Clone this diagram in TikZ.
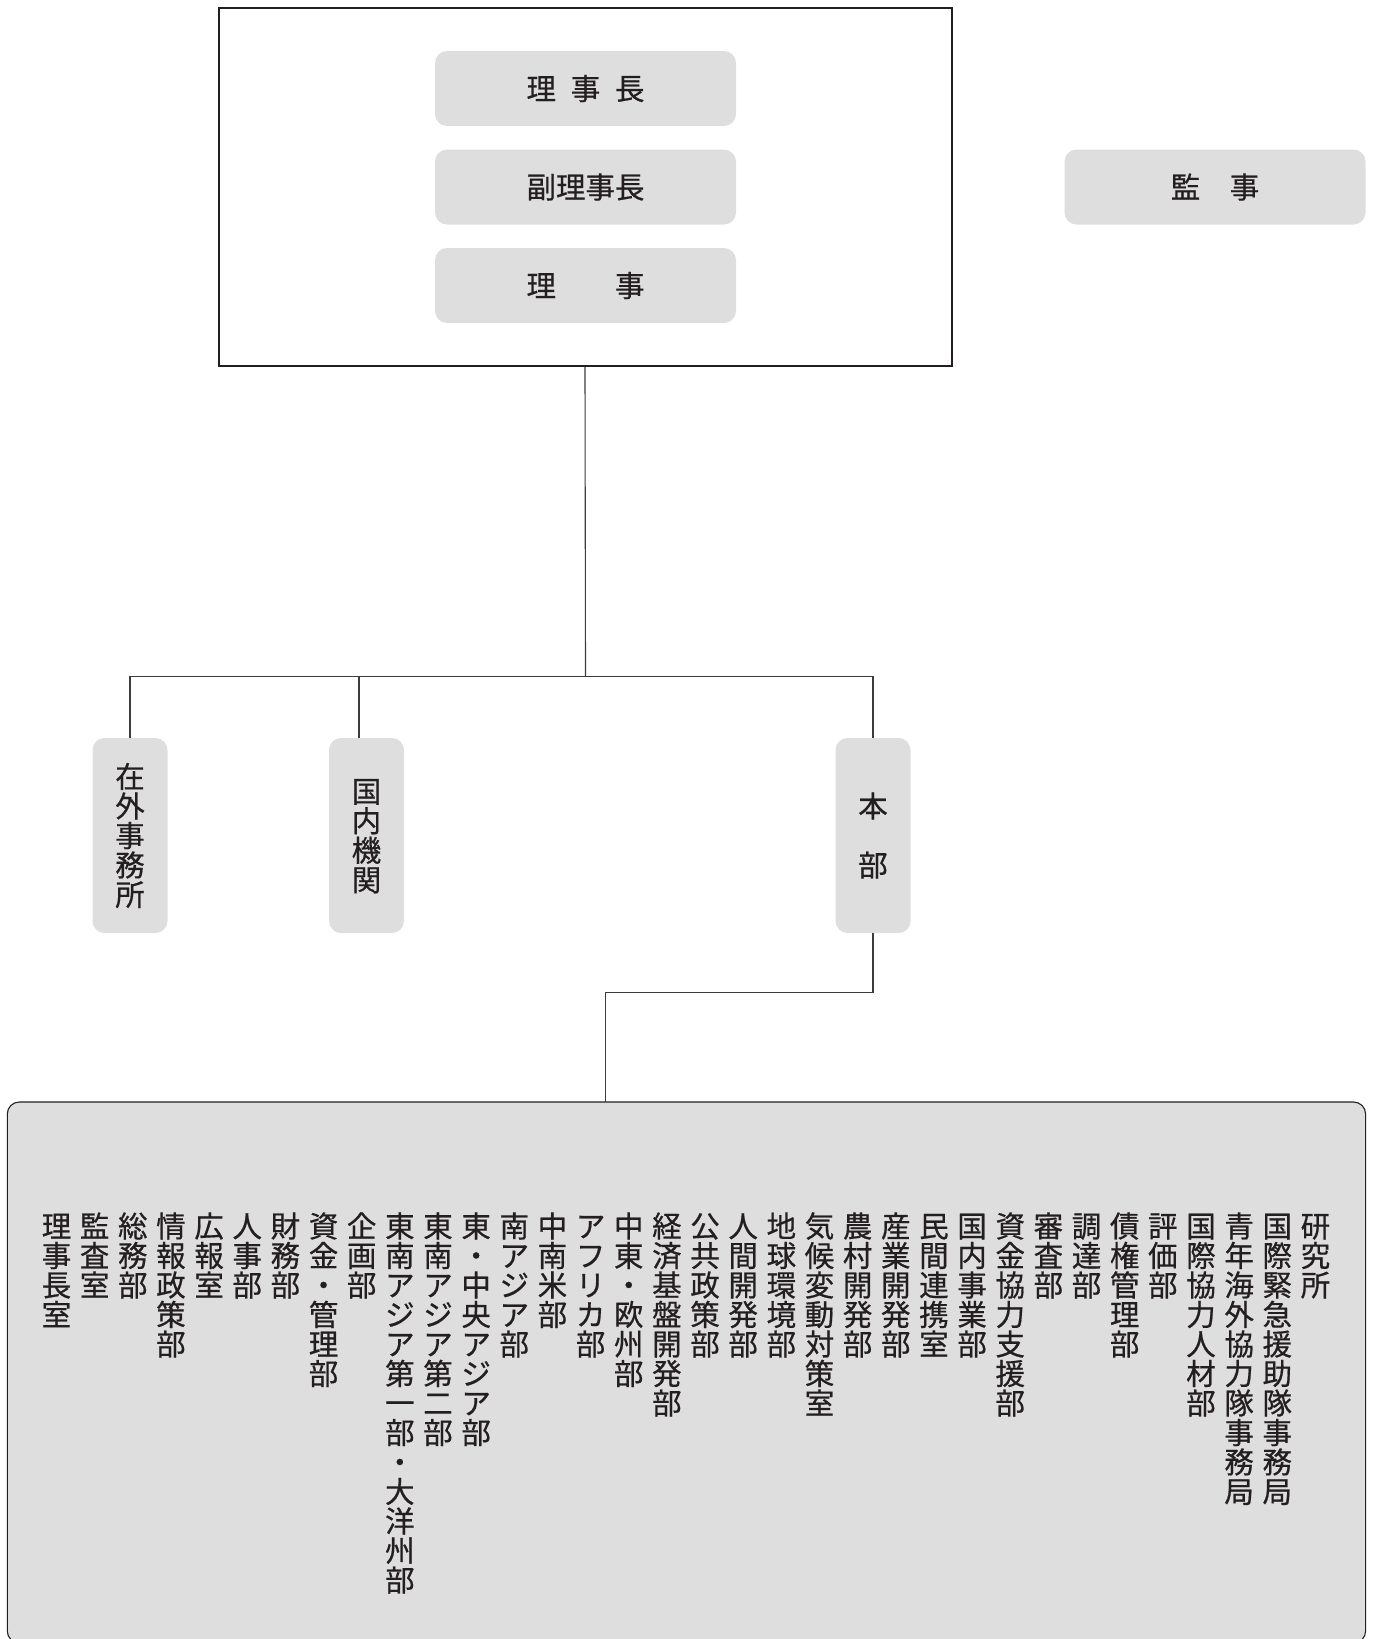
\documentclass[tikz,border=0pt]{standalone}
\usepackage{fontspec}
\newfontfamily\jp[FakeBold=0.6]{Noto Sans CJK JP}
\definecolor{boxgray}{RGB}{223,222,223}
\definecolor{ink}{RGB}{35,31,32}
\definecolor{linec}{RGB}{60,60,60}
\makeatletter
\newcommand\vtext[1]{\vbox{\offinterlineskip\@tfor\vt@c:=#1\do{\hbox to 1em{\vrule height .88em depth .12em width 0pt\hss\vt@c\hss}}}}
\makeatother
\tikzset{
  lbl/.style={fill=boxgray, rounded corners=12pt, inner sep=0pt, text=ink,
    font=\jp\fontsize{29.5}{29.5}\selectfont},
  hbox/.style={lbl, minimum width=301pt, minimum height=75pt},
  vbx/.style={lbl, minimum width=75pt, minimum height=195pt},
  conn/.style={draw=linec, line width=1.1pt},
  colt/.style={anchor=north, inner sep=0pt, text=ink,
    font=\jp\fontsize{29.5}{29.5}\selectfont}
}
\begin{document}
\begin{tikzpicture}[x=1pt,y=-1pt]
\path[use as bounding box] (0,0) rectangle (1375,1639);
% board
\node[draw=ink, line width=2pt, minimum width=733pt, minimum height=357.6pt, inner sep=0pt] (board) at (585,187.2) {};
\node[hbox] (chair) at (585.5,88.5) {理\hspace{.5em}事\hspace{.5em}長};
\node[hbox] (vice) at (585.5,187) {副理事長};
\node[hbox] (dir) at (585.5,285.5) {理　　事};
\node[hbox] (audit) at (1215,187) {監　事};
% second level
\node[vbx] (zaigai) at (130,835.5) {\vtext{在外事務所}};
\node[vbx] (kokunai) at (366.5,835.5) {\vtext{国内機関}};
\node[vbx] (honbu) at (873,835.5) {\vtext{本　部}};
\coordinate (j) at (585.5,676.5);
\coordinate (kt) at (359,738);
\draw[conn] (board.south) -- (j);
\draw[conn] (zaigai.north) |- (j) -| (honbu.north);
\draw[conn] (kt) -- (kt |- j);
% bottom box
\node[draw=ink, line width=1.1pt, fill=boxgray, rounded corners=12pt, minimum width=1358.3pt, minimum height=541pt, inner sep=0pt] (dept) at (686.45,1372.5) {};
\coordinate (mid) at (605.4,992.3);
\coordinate (bt) at (605.4,1102);
\draw[conn] (honbu.south) |- (mid) -- (bt);
\foreach \t [count=\i] in {理事長室,監査室,総務部,情報政策部,広報室,人事部,財務部,資金・管理部,企画部,東南アジア第一部・大洋州部,東南アジア第二部,東・中央アジア部,南アジア部,中南米部,アフリカ部,中東・欧州部,経済基盤開発部,公共政策部,人間開発部,地球環境部,気候変動対策室,農村開発部,産業開発部,民間連携室,国内事業部,資金協力支援部,審査部,調達部,債権管理部,評価部,国際協力人材部,青年海外協力隊事務局,国際緊急援助隊事務局,研究所}
  \node[colt] (c\i) at ({56.5+(\i-1)*38.15},1211) {\expandafter\vtext\expandafter{\t}};
\end{tikzpicture}
\end{document}
